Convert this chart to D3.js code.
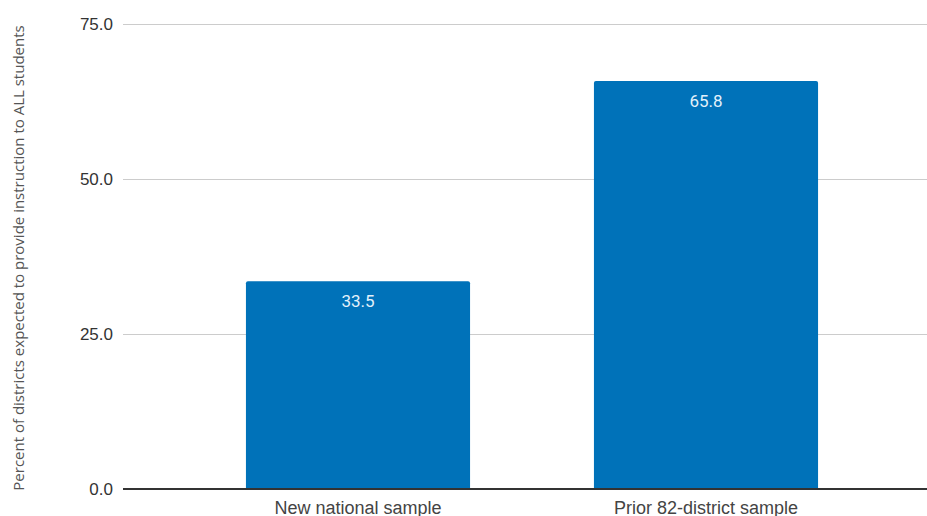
<!DOCTYPE html>
<html><head><meta charset="utf-8">
<script src="https://cdn.jsdelivr.net/npm/d3@7"></script>
<style>body{margin:0;background:#fff}svg{display:block}</style>
</head><body>
<svg id="c" width="927" height="516"></svg>
<script>
const categories = ["New national sample", "Prior 82-district sample"];
const values = [33.5, 65.8];
const yTicks = [0, 25, 50, 75];
const yTitle = "Percent of districts expected to provide instruction to ALL students";

const svg = d3.select("#c");
const x = d3.scaleBand().domain(categories).range([184, 880]).paddingInner(0.356).paddingOuter(0.178);
const y = d3.scaleLinear().domain([0, 75]).range([489, 24]);

// gridlines
svg.append("g").selectAll("line").data(yTicks.filter(d => d > 0)).join("line")
  .attr("x1", 123).attr("x2", 927).attr("y1", d => y(d)).attr("y2", d => y(d))
  .attr("stroke", "#cccccc").attr("stroke-width", 1).attr("shape-rendering", "crispEdges");

// tick labels
svg.append("g").selectAll("text").data(yTicks).join("text")
  .attr("x", 113).attr("y", d => y(d)).attr("dy", "0.35em").attr("text-anchor", "end")
  .attr("font-family", "'Liberation Sans', Arial, sans-serif").attr("font-size", 17).attr("fill", "#333")
  .text(d => d3.format(".1f")(d));

// bars with rounded top corners
const r = 2;
svg.append("g").selectAll("path").data(values).join("path")
  .attr("fill", "#0072b9")
  .attr("d", (d, i) => {
    const x0 = x(categories[i]), w = x.bandwidth(), y0 = y(d), y1 = y(0);
    return `M${x0},${y1}V${y0 + r}Q${x0},${y0} ${x0 + r},${y0}H${x0 + w - r}Q${x0 + w},${y0} ${x0 + w},${y0 + r}V${y1}Z`;
  });

// value labels
svg.append("g").selectAll("text").data(values).join("text")
  .attr("x", (d, i) => x(categories[i]) + x.bandwidth() / 2)
  .attr("y", d => y(d) + 20).attr("dy", "0.35em").attr("text-anchor", "middle")
  .attr("font-family", "Roboto, Arial, sans-serif").attr("font-size", 17).attr("fill", "#e3f1fb")
  .text(d => d3.format(".1f")(d));

// baseline
svg.append("line").attr("x1", 123).attr("x2", 927).attr("y1", y(0)).attr("y2", y(0))
  .attr("stroke", "#333").attr("stroke-width", 1.2).attr("shape-rendering", "crispEdges");

// x labels
svg.append("g").selectAll("text").data(categories).join("text")
  .attr("x", d => x(d) + x.bandwidth() / 2).attr("y", 514).attr("text-anchor", "middle")
  .attr("font-family", "'Liberation Sans', Arial, sans-serif").attr("font-size", 18).attr("fill", "#444")
  .text(d => d);

// y title
svg.append("text").attr("transform", "translate(24,258) rotate(-90)").attr("text-anchor", "middle")
  .attr("font-family", "'Open Sans', 'Noto Sans', sans-serif").attr("font-size", 15).attr("fill", "#555")
  .text(yTitle);
</script>
</body></html>
